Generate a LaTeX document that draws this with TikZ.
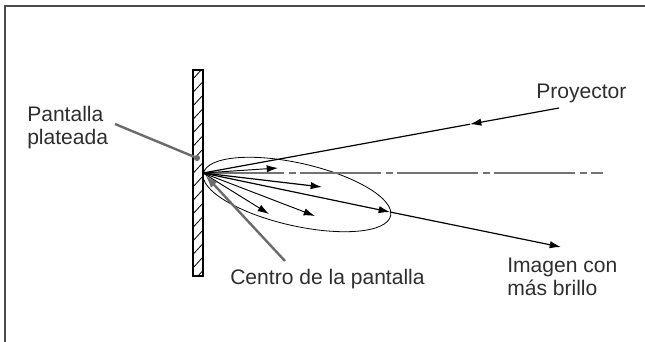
\documentclass[tikz,border=0pt]{standalone}
\usepackage{fontspec}
\setmainfont{Liberation Sans}
\usepackage{tikz}
\usetikzlibrary{arrows.meta,positioning,shapes.geometric}

\begin{document}
\begin{tikzpicture}[
  x=0.75pt, y=-0.75pt,
  font=\fontsize{15.8pt}{17.25pt}\selectfont,
  lbl/.style={inner sep=0pt, align=left, text=black!82},
  ray/.style={-{Latex[length=8.5pt,width=5.5pt]}, line width=0.7pt},
  pointer/.style={draw=black!58, line width=1.8pt},
  axisline/.style={draw=black!55, line width=1.1pt, dash pattern=on 60.75pt off 3.75pt on 5.25pt off 3pt}
]
\useasboundingbox (0,0) rectangle (645,342);
\draw[black!70, line width=0.8pt] (645,6) -- (5,6) -- (5,342);

% pantalla
\begin{scope}
\clip (192,70) rectangle (203,276);
\foreach \y in {80,93.5,...,295}
  \draw[line width=0.6pt] (192,\y) -- (203,\y-12);
\end{scope}
\node[draw, line width=1.5pt, minimum width=7.5pt, minimum height=154.5pt, inner sep=0pt] (pantalla) at (197.5,173) {};

\coordinate (c) at (203,173);
\coordinate (eje) at (603,173);
\coordinate (proy) at (559,108);
\coordinate (proymid) at (470,124.2);
\coordinate (r1) at (278,168);
\coordinate (r2) at (322,187);
\coordinate (r3) at (390,212);
\coordinate (r3end) at (561,247);
\coordinate (r4) at (315,216);
\coordinate (r5) at (269,214);

\node[draw, ellipse, line width=0.6pt, inner sep=0pt, minimum width=144pt, minimum height=47pt, rotate=-12.8] (lobulo) at (297,194.5) {};

\draw[axisline] (c) -- (eje);
\draw[ray, line width=0.9pt] (proy) -- (proymid);
\draw[line width=0.9pt] (proymid) -- (c);
\draw[ray] (c) -- (r1);
\draw[ray, line width=0.9pt] (c) -- (r2);
\draw[ray, line width=0.9pt] (c) -- (r3);
\draw[ray, line width=0.9pt] (r3) -- (r3end);
\draw[ray] (c) -- (r4);
\draw[ray] (c) -- (r5);

\node[lbl, anchor=base west] (proyector) at (536,99) {Proyector};
\node[lbl, anchor=north west] (plateada) at (27,106) {Pantalla\\plateada};
\node[lbl, anchor=base west] (centro) at (230,284) {Centro de la pantalla};
\node[lbl, anchor=north west] (imagen) at (507,258) {Imagen con\\más brillo};

\coordinate (m1) at (115,124);
\coordinate (m1end) at (197,158);
\coordinate (m2) at (285,261);
\coordinate (m2end) at (205,175);
\draw[pointer] (m1) -- (m1end);
\fill[black!58] (m1end) circle (2.3pt);
\draw[pointer, -{Latex[length=10pt,width=6.5pt]}] (m2) -- (m2end);
\end{tikzpicture}
\end{document}
